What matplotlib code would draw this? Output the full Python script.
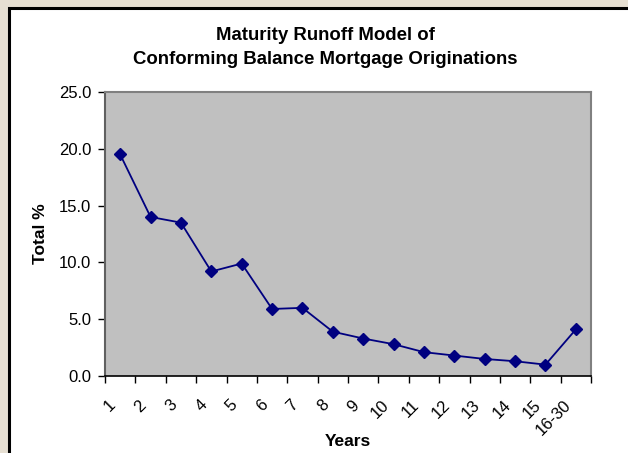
import matplotlib.pyplot as plt
import matplotlib.transforms as mtransforms
from matplotlib.patches import Rectangle

plt.rcParams['font.family'] = ['Liberation Sans', 'DejaVu Sans']

years = ['1', '2', '3', '4', '5', '6', '7', '8', '9', '10',
         '11', '12', '13', '14', '15', '16-30']
total_pct = [19.5, 14.0, 13.5, 9.2, 9.9, 5.9, 6.0, 3.9, 3.3, 2.8,
             2.1, 1.8, 1.5, 1.3, 1.0, 4.1]
y_ticks = [0, 5, 10, 15, 20, 25]

fig = plt.figure(figsize=(6.28, 4.53), dpi=100)
fig.patch.set_facecolor('#e6dfd2')

# white chart box with black frame (runs off right and bottom edges)
box = Rectangle((8.5 / 628, -0.05), 1.0, 1 - 8.5 / 453 + 0.05,
                transform=fig.transFigure, facecolor='white',
                edgecolor='black', linewidth=2.2, zorder=-5)
fig.patches.append(box)

ax = fig.add_axes([105 / 628, 1 - 376 / 453, 486 / 628, 284 / 453])
ax.set_zorder(2)
ax.set_facecolor('#c0c0c0')

x = list(range(len(years)))
ax.plot(x, total_pct, color='#000080', marker='D', markersize=6,
        linewidth=1.3, clip_on=False, zorder=3)

ax.set_xlim(-0.5, len(years) - 0.5)
ax.set_ylim(0, 25)
ax.set_yticks(y_ticks)
ax.set_yticklabels(['%.1f' % v for v in y_ticks], fontsize=12)

ax.set_xticks([i - 0.5 for i in range(len(years) + 1)], minor=False)
ax.set_xticklabels([])
ax.set_xticks(x, minor=True)
ax.set_xticklabels(years, minor=True, rotation=45, ha='right', va='top',
                   rotation_mode='anchor', fontsize=12)
ax.tick_params(axis='x', which='minor', length=0, pad=14)
ax.tick_params(axis='x', which='major', length=5, width=1, direction='out')
ax.tick_params(axis='y', length=5, width=1, direction='out', pad=5)

# nudge the slanted labels left like the original
shift = mtransforms.ScaledTranslation(-0.12, -0.02, fig.dpi_scale_trans)
for lab in ax.get_xticklabels(minor=True):
    lab.set_transform(lab.get_transform() + shift)

for side in ['top', 'right']:
    ax.spines[side].set_color('#808080')
    ax.spines[side].set_linewidth(1.5)
ax.spines['left'].set_color('#606060')
ax.spines['left'].set_linewidth(1.5)
ax.spines['bottom'].set_color('black')
ax.spines['bottom'].set_linewidth(1.2)

ax.set_xlabel('Years', fontsize=12.5, fontweight='bold')
ax.xaxis.set_label_coords(0.5, -0.204)
ax.set_ylabel('Total %', fontsize=12.5, fontweight='bold')
ax.yaxis.set_label_coords(-0.117, 0.5)

fig.text(325 / 628, 1 - 36 / 453, 'Maturity Runoff Model of',
         ha='center', va='center', fontsize=13.4, fontweight='bold')
fig.text(325 / 628, 1 - 60 / 453, 'Conforming Balance Mortgage Originations',
         ha='center', va='center', fontsize=13.4, fontweight='bold')

fig.savefig('out.png', dpi=100, facecolor=fig.get_facecolor())
